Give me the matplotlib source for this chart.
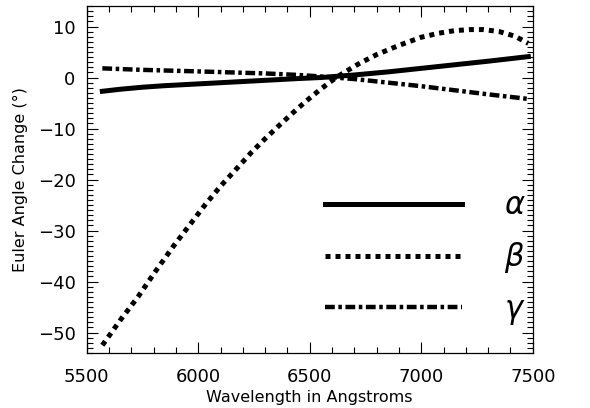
import numpy as np
import matplotlib
matplotlib.use("Agg")
import matplotlib.pyplot as plt
from matplotlib.ticker import MultipleLocator

# Euler angle changes vs wavelength
wl_alpha = [5570, 5650, 5750, 5850, 6000, 6150, 6300, 6450, 6550, 6700, 6850, 7000, 7150, 7300, 7480]
alpha = [-2.7, -2.3, -1.9, -1.6, -1.25, -0.9, -0.55, -0.2, 0.0, 0.5, 1.1, 1.8, 2.5, 3.2, 4.1]

wl_beta = [5570, 5650, 5730, 5810, 5890, 5960, 6030, 6100, 6180, 6240, 6300, 6370,
           6440, 6490, 6540, 6590, 6640, 6720, 6800, 6900, 7000, 7080, 7150, 7220,
           7280, 7350, 7420, 7480]
beta = [-52.5, -47.6, -43.0, -37.9, -33.0, -29.0, -25.0, -21.3, -17.5, -14.6, -12.0, -9.1,
        -6.3, -4.4, -2.6, -0.9, 0.6, 2.7, 4.5, 6.3, 7.9, 8.7, 9.2, 9.4,
        9.4, 9.0, 8.1, 6.7]

wl_gamma = [5570, 5750, 6000, 6150, 6300, 6450, 6550, 6700, 6850, 7000, 7150, 7300, 7480]
gamma = [1.8, 1.5, 1.2, 1.0, 0.8, 0.5, 0.2, -0.3, -1.0, -1.7, -2.5, -3.3, -4.2]

labels = [r"$\alpha$", r"$\beta$", r"$\gamma$"]

fig = plt.figure(figsize=(5.9, 4.08), dpi=100)
ax = fig.add_axes([0.147, 0.135, 0.756, 0.85])

ax.plot(wl_alpha, alpha, color="black", lw=3.6, ls="-", label=labels[0])
ax.plot(wl_beta, beta, color="black", lw=3.6, ls=(0, (1, 1)), label=labels[1])
ax.plot(wl_gamma, gamma, color="black", lw=3.2, ls=(0, (2.2, 0.8, 0.8, 0.8)), label=labels[2])

ax.set_xlim(5500, 7500)
ax.set_ylim(-54, 14)
ax.xaxis.set_major_locator(MultipleLocator(500))
ax.xaxis.set_minor_locator(MultipleLocator(100))
ax.yaxis.set_major_locator(MultipleLocator(10))
ax.yaxis.set_minor_locator(MultipleLocator(1))
ax.tick_params(which="both", direction="in", top=True, right=True, width=0.8)
ax.tick_params(which="major", length=8, labelsize=13)
ax.tick_params(axis="x", which="major", pad=11)
ax.tick_params(axis="y", which="major", pad=8)
ax.tick_params(which="minor", length=4)
for s in ax.spines.values():
    s.set_linewidth(0.9)

ax.set_xlabel("Wavelength in Angstroms", fontsize=11.5, labelpad=3)
ax.set_ylabel("Euler Angle Change (°)", fontsize=11.5, labelpad=7)

leg = ax.legend(loc="center left", bbox_to_anchor=(0.472, 0.27), frameon=False,
                fontsize=22, handlelength=4.5, handletextpad=1.35, labelspacing=0.65)

fig.savefig("out.png", dpi=100)
